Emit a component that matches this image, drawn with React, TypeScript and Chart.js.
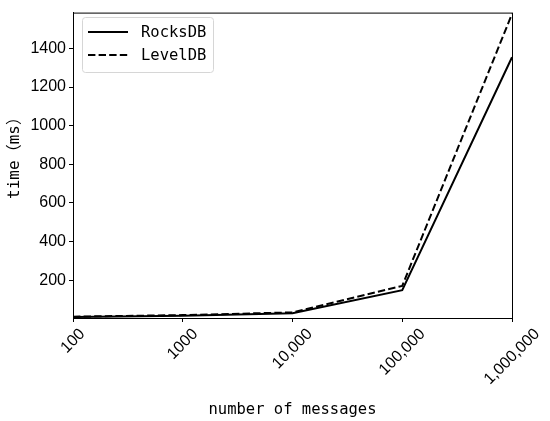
import React, { useEffect, useRef } from "react";
import { Chart, registerables } from "chart.js";

Chart.register(...registerables);

const categories = ["100", "1000", "10,000", "100,000", "1,000,000"];
const rocksDB = [10, 16, 30, 149, 1354];
const levelDB = [12, 20, 34, 171, 1578];
const yTicks = [200, 400, 600, 800, 1000, 1200, 1400];
const xTitle = "number of messages";
const yTitle = "time（ms）";

const MONO = "'DejaVu Sans Mono', 'Noto Sans CJK SC', monospace";
const SANS = "'Liberation Sans', Arial, sans-serif";

const framePlugin = {
  id: "framePlugin",
  afterDatasetsDraw(chart: any) {
    const { ctx, chartArea } = chart;
    ctx.save();
    ctx.strokeStyle = "#000";
    ctx.lineWidth = 1;
    ctx.strokeRect(chartArea.left + 0.5, chartArea.top + 0.5, chartArea.right - chartArea.left, chartArea.bottom - chartArea.top);

    // rotated x tick labels, centred under each tick
    const xs = chart.scales.x;
    ctx.fillStyle = "#000";
    ctx.font = `16px ${SANS}`;
    ctx.textAlign = "center";
    ctx.textBaseline = "middle";
    const fs = 16;
    xs.ticks.forEach((_t: any, i: number) => {
      const label = String(chart.data.labels[i]);
      const w = ctx.measureText(label).width;
      const bboxH = (w + fs) * Math.SQRT1_2;
      const cx = xs.getPixelForTick(i);
      const cy = chartArea.bottom + 8 + bboxH / 2;
      ctx.save();
      ctx.translate(cx, cy);
      ctx.rotate(-Math.PI / 4);
      ctx.fillText(label, 0, 0);
      ctx.restore();
    });

    // y axis title
    ctx.save();
    ctx.font = `16px ${MONO}`;
    ctx.textAlign = "center";
    ctx.textBaseline = "middle";
    ctx.translate(15, 154);
    ctx.rotate(-Math.PI / 2);
    ctx.fillText(yTitle, 0, 0);
    ctx.restore();

    // legend inside the plot
    const bx = 82.5;
    const by = 17.5;
    const bw = 131;
    const bh = 55;
    ctx.fillStyle = "rgba(255,255,255,0.8)";
    ctx.strokeStyle = "#d6d6d6";
    ctx.lineWidth = 1;
    const r = 3;
    ctx.beginPath();
    ctx.moveTo(bx + r, by);
    ctx.lineTo(bx + bw - r, by);
    ctx.arcTo(bx + bw, by, bx + bw, by + r, r);
    ctx.lineTo(bx + bw, by + bh - r);
    ctx.arcTo(bx + bw, by + bh, bx + bw - r, by + bh, r);
    ctx.lineTo(bx + r, by + bh);
    ctx.arcTo(bx, by + bh, bx, by + bh - r, r);
    ctx.lineTo(bx, by + r);
    ctx.arcTo(bx, by, bx + r, by, r);
    ctx.closePath();
    ctx.fill();
    ctx.stroke();
    chart.data.datasets.forEach((ds: any, i: number) => {
      const y = 32 + i * 23;
      ctx.strokeStyle = "#000";
      ctx.lineWidth = 2;
      ctx.setLineDash(ds.borderDash || []);
      ctx.beginPath();
      ctx.moveTo(88, y);
      ctx.lineTo(128, y);
      ctx.stroke();
      ctx.setLineDash([]);
      ctx.fillStyle = "#000";
      ctx.font = `15.5px ${MONO}`;
      ctx.textBaseline = "middle";
      ctx.textAlign = "left";
      ctx.fillText(ds.label, 141, y + 1);
    });
    ctx.restore();
  },
};

export default function App() {
  const ref = useRef<HTMLCanvasElement>(null);
  useEffect(() => {
    const chart = new Chart(ref.current!, {
      type: "line",
      data: {
        labels: categories,
        datasets: [
          { label: "RocksDB", data: rocksDB, borderColor: "#000", borderWidth: 2, pointRadius: 0, fill: false, tension: 0 },
          { label: "LevelDB", data: levelDB, borderColor: "#000", borderWidth: 2, borderDash: [7.4, 3.2], pointRadius: 0, fill: false, tension: 0 },
        ],
      },
      options: {
        animation: false,
        responsive: false,
        maintainAspectRatio: false,
        layout: { padding: { left: 0, right: 38, top: 7, bottom: 0 } },
        plugins: { legend: { display: false }, tooltip: { enabled: false } },
        scales: {
          x: {
            type: "category",
            offset: false,
            grid: { drawOnChartArea: false, drawTicks: true, tickLength: 4, color: "#000" },
            border: { display: true, color: "#000", width: 1 },
            ticks: { display: false, autoSkip: false },
            title: { display: true, text: xTitle, color: "#000", font: { family: MONO, size: 15.5 }, padding: { top: 0, bottom: 2 } },
            afterFit: (s: any) => { s.height = 103; },
          },
          y: {
            min: 5,
            max: 1585,
            afterBuildTicks: (s: any) => { s.ticks = yTicks.map((v) => ({ value: v })); },
            grid: { drawOnChartArea: false, drawTicks: true, tickLength: 4, color: "#000" },
            border: { display: true, color: "#000", width: 1 },
            ticks: { color: "#000", font: { family: SANS, size: 16 }, padding: 3, callback: (v: any) => String(v) },
            title: { display: false },
            afterFit: (s: any) => { s.width = 73; },
          },
        },
      },
      plugins: [framePlugin],
    });
    return () => chart.destroy();
  }, []);
  return (
    <div style={{ position: "fixed", left: 0, top: 0, width: 550, height: 421, background: "#fff" }}>
      <canvas ref={ref} width={550} height={421} style={{ display: "block", width: 550, height: 421 }} />
    </div>
  );
}
